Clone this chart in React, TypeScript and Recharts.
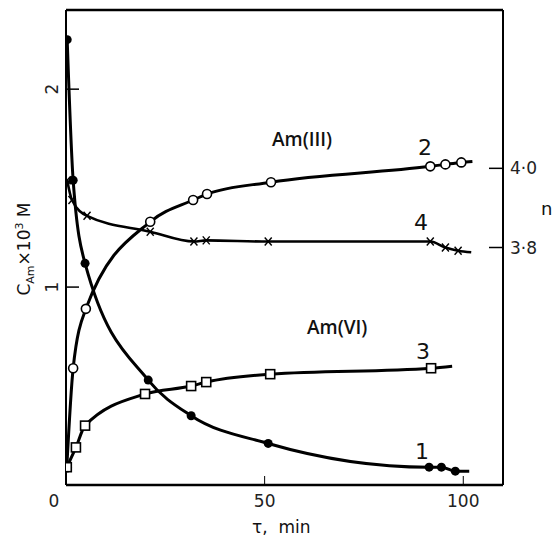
import React from "react";
import { LineChart, Line, XAxis, YAxis, ReferenceLine } from "recharts";

// curve 1: Am(VI) consumed, filled circles (left axis)
const tau1 = [0.3, 1.8, 4.8, 20.7, 31.5, 50.9, 91.4, 94.5, 98];
const cam1 = [2.25, 1.54, 1.12, 0.53, 0.35, 0.21, 0.09, 0.09, 0.07];
const tail1 = [101.5, 0.07];

// curve 2: Am(III), open circles (left axis)
const tau2 = [0.2, 1.8, 5.0, 21.2, 32, 35.5, 51.6, 91.7, 95.5, 99.5];
const cam2 = [0.09, 0.59, 0.89, 1.33, 1.44, 1.47, 1.53, 1.61, 1.62, 1.63];
const tail2 = [102.3, 1.635];

// curve 3: Am(VI), open squares (left axis)
const tau3 = [0.2, 2.5, 4.8, 19.9, 31.5, 35.3, 51.4, 91.9];
const cam3 = [0.09, 0.19, 0.3, 0.46, 0.5, 0.52, 0.56, 0.59];
const tail3 = [97.2, 0.6];

// curve 4: n, crosses (right axis)
const tau4 = [0.3, 1.5, 5.3, 21.2, 32.2, 35.3, 50.9, 91.7, 95.5, 98.7];
const n4 = [3.97, 3.92, 3.88, 3.84, 3.815, 3.818, 3.815, 3.815, 3.8, 3.792];
const tail4 = [102, 3.788];

const xTicks = [0, 50, 100];
const leftTicks = [1, 2];
const rightTicks = [3.8, 4.0];

const rows = (t: number[], v: number[], tail: number[]) =>
  t
    .map((x, i) => ({ t: x, v: v[i], m: true }))
    .concat([{ t: tail[0], v: tail[1], m: false }]);

const font = "'DejaVu Sans', sans-serif";

const dotFilled = (p: any) =>
  p.payload.m ? (
    <circle key={p.index} cx={p.cx} cy={p.cy} r={4.5} fill="#000" />
  ) : (
    <g key={p.index} />
  );
const dotOpen = (p: any) =>
  p.payload.m ? (
    <circle key={p.index} cx={p.cx} cy={p.cy} r={4.5} fill="#fff" stroke="#000" strokeWidth={1.6} />
  ) : (
    <g key={p.index} />
  );
const dotSquare = (p: any) =>
  p.payload.m ? (
    <rect key={p.index} x={p.cx - 4.5} y={p.cy - 4.5} width={9} height={9} fill="#fff" stroke="#000" strokeWidth={1.6} />
  ) : (
    <g key={p.index} />
  );
const dotCross = (p: any) =>
  p.payload.m ? (
    <g key={p.index} stroke="#000" strokeWidth={1.4}>
      <line x1={p.cx - 3.5} y1={p.cy - 4} x2={p.cx + 3.5} y2={p.cy + 4} />
      <line x1={p.cx + 3.5} y1={p.cy - 4} x2={p.cx - 3.5} y2={p.cy + 4} />
    </g>
  ) : (
    <g key={p.index} />
  );

// the scanned figure has its left tick numbers turned on their side
const LeftTick = (p: any) => (
  <g transform={`translate(${p.x},${p.y}) rotate(-90)`}>
    <text
      x={0}
      y={0}
      textAnchor="middle"
      dominantBaseline="central"
      fontFamily={font}
      fontSize={17}
      fill="#222"
    >
      {p.payload.value}
    </text>
  </g>
);

const BottomTick = (p: any) => (
  <text
    x={p.payload.value === 0 ? p.x - 12 : p.x}
    y={p.y}
    dy="0.71em"
    textAnchor="middle"
    fontFamily={font}
    fontSize={17}
    fill="#222"
  >
    {p.payload.value}
  </text>
);

const RightTick = (p: any) => (
  <text
    x={p.x}
    y={p.y}
    textAnchor="start"
    dominantBaseline="central"
    fontFamily={font}
    fontSize={17}
    fill="#222"
  >
    {p.payload.value.toFixed(1).replace(".", "·")}
  </text>
);

const note = (left: number, top: number, size: number, extra: any = {}) => ({
  position: "absolute" as const,
  left,
  top,
  fontSize: size,
  lineHeight: 1,
  whiteSpace: "nowrap" as const,
  color: "#111",
  fontFamily: font,
  ...extra,
});

export default function App() {
  return (
    <div style={{ position: "absolute", left: 0, top: 0, width: 553, height: 538, background: "#fff" }}>
      <LineChart width={553} height={538} margin={{ top: 10, right: 0, bottom: 0, left: 0 }}>
        <XAxis
          dataKey="t"
          type="number"
          domain={[0, 110]}
          ticks={xTicks}
          allowDataOverflow
          height={53}
          axisLine={{ stroke: "#000", strokeWidth: 2.5 }}
          tickLine={{ stroke: "#000", strokeWidth: 1 }}
          tickSize={-9}
          tickMargin={19}
          tick={BottomTick}
        />
        <YAxis
          yAxisId="left"
          type="number"
          domain={[0, 2.4]}
          ticks={leftTicks}
          allowDataOverflow
          width={66}
          axisLine={{ stroke: "#000", strokeWidth: 2 }}
          tickLine={{ stroke: "#000", strokeWidth: 1.5 }}
          tickSize={-13}
          tickMargin={27}
          tick={LeftTick}
        />
        <YAxis
          yAxisId="right"
          orientation="right"
          type="number"
          domain={[3.2, 4.4]}
          ticks={rightTicks}
          allowDataOverflow
          width={50}
          axisLine={{ stroke: "#000", strokeWidth: 2 }}
          tickLine={{ stroke: "#000", strokeWidth: 1.5 }}
          tickSize={-14}
          tickMargin={21}
          tick={RightTick}
        />
        <ReferenceLine yAxisId="left" y={2.4} stroke="#000" strokeWidth={2.5} />
        <Line
          yAxisId="left"
          data={rows(tau1, cam1, tail1)}
          dataKey="v"
          type="monotone"
          stroke="#000"
          strokeWidth={3}
          dot={dotFilled}
          isAnimationActive={false}
        />
        <Line
          yAxisId="left"
          data={rows(tau2, cam2, tail2)}
          dataKey="v"
          type="monotone"
          stroke="#000"
          strokeWidth={3}
          dot={dotOpen}
          isAnimationActive={false}
        />
        <Line
          yAxisId="left"
          data={rows(tau3, cam3, tail3)}
          dataKey="v"
          type="monotone"
          stroke="#000"
          strokeWidth={3}
          dot={dotSquare}
          isAnimationActive={false}
        />
        <Line
          yAxisId="right"
          data={rows(tau4, n4, tail4)}
          dataKey="v"
          type="monotone"
          stroke="#000"
          strokeWidth={2.6}
          dot={dotCross}
          isAnimationActive={false}
        />
      </LineChart>

      <div style={note(272, 130, 19, { fontFamily: "'Open Sans', sans-serif", fontWeight: 600 })}>Am(III)</div>
      <div style={note(307, 318, 19, { fontFamily: "'Open Sans', sans-serif", fontWeight: 600 })}>Am(VI)</div>
      <div style={note(418, 137, 22)}>2</div>
      <div style={note(414, 212, 22)}>4</div>
      <div style={note(416, 341, 22)}>3</div>
      <div style={note(415, 441, 22)}>1</div>
      <div style={note(541, 200, 18)}>n</div>
      <div style={note(252, 519, 17)}>τ,&nbsp;&nbsp;min</div>
      <div
        style={note(25, 249, 17, {
          transform: "translate(-50%, -50%) rotate(-90deg)",
        })}
      >
        C<sub style={{ fontSize: 11 }}>Am</sub>×10<sup style={{ fontSize: 11 }}>3</sup>&nbsp;M
      </div>
    </div>
  );
}
